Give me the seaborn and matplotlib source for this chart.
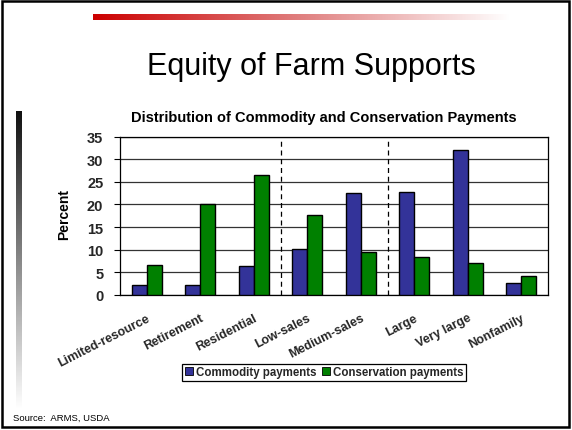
import numpy as np
import pandas as pd
import matplotlib
matplotlib.use("Agg")
import matplotlib.pyplot as plt
from matplotlib.lines import Line2D
from matplotlib.colors import LinearSegmentedColormap
import seaborn as sns

# Farm typology groups and payment shares (percent)
categories = ["Limited-resource", "Retirement", "Residential", "Low-sales",
              "Medium-sales", "Large", "Very large", "Nonfamily"]
commodity = [2.2, 2.2, 6.4, 10.2, 22.5, 22.8, 32.0, 2.6]
conservation = [6.6, 20.0, 26.5, 17.7, 9.6, 8.5, 7.1, 4.3]
series_names = ["Commodity payments", "Conservation payments"]
y_ticks = [0, 5, 10, 15, 20, 25, 30, 35]

df = pd.DataFrame({
    "Group": categories * 2,
    "Series": [series_names[0]] * len(categories) + [series_names[1]] * len(categories),
    "Percent": commodity + conservation,
})

sns.set_theme(style="white")
plt.rcParams["font.family"] = ["Liberation Sans", "DejaVu Sans"]

W, H = 572, 431
fig = plt.figure(figsize=(W / 100, H / 100), dpi=100)
fig.patch.set_facecolor("white")

def fx(px):
    return px / W

def fy(py):
    return 1 - py / H

# Slide decorations: red fading rule at top, grey fading bar at left
red_ax = fig.add_axes([fx(93), fy(21), fx(510) - fx(93), fy(15) - fy(21)])
red_cmap = LinearSegmentedColormap.from_list("red_fade", ["#cc0000", "#e08080", "#ffffff"])
red_ax.imshow(np.linspace(0, 1, 256)[None, :], aspect="auto", cmap=red_cmap)
red_ax.axis("off")

grey_ax = fig.add_axes([fx(16), fy(410), fx(22) - fx(16), fy(112) - fy(410)])
grey_cmap = LinearSegmentedColormap.from_list("grey_fade", ["#111111", "#888888", "#ffffff"])
grey_ax.imshow(np.linspace(0, 1, 256)[:, None], aspect="auto", cmap=grey_cmap)
grey_ax.axis("off")

# Slide frame
fig.add_artist(plt.Rectangle((fx(2), fy(428)), fx(569) - fx(2), fy(2) - fy(428),
                             transform=fig.transFigure, fill=False,
                             edgecolor="black", linewidth=1.8))

fig.text(fx(311), fy(75), "Equity of Farm Supports", ha="center", va="baseline",
         fontsize=22, color="black")
fig.text(fx(323.5), fy(122), "Distribution of Commodity and Conservation Payments",
         ha="center", va="baseline", fontsize=10.5, fontweight="bold", color="black")
fig.text(fx(13), fy(421), "Source:  ARMS, USDA", ha="left", va="baseline",
         fontsize=6.8, color="black")

# Chart
ax = fig.add_axes([fx(120), fy(296), fx(548) - fx(120), fy(137.5) - fy(296)])
palette = {series_names[0]: "#333399", series_names[1]: "#008000"}
sns.barplot(data=df, x="Group", y="Percent", hue="Series", order=categories,
            hue_order=series_names, palette=palette, width=0.56, dodge=True,
            edgecolor="black", linewidth=1.0, saturation=1, legend=False, ax=ax,
            zorder=3)

ax.set_xlim(-0.5, len(categories) - 0.5)
ax.set_ylim(0, 35)
ax.set_yticks(y_ticks)
ax.set_yticklabels([str(v) for v in y_ticks], fontsize=10.5, fontweight="bold")
ax.yaxis.grid(True, color="#333333", linewidth=0.9, zorder=0)
ax.set_axisbelow(True)

ax.set_xticks(range(len(categories)))
ax.set_xticklabels(categories, rotation=27, ha="right", rotation_mode="anchor",
                   fontsize=9, fontweight="bold")
ax.set_xticks(np.arange(-0.5, len(categories), 1), minor=True)
ax.tick_params(axis="x", which="major", length=0, pad=12)
ax.tick_params(axis="x", which="minor", length=4, width=0.8, color="black", direction="out")
ax.tick_params(axis="y", which="major", length=4, width=0.8, color="black",
               direction="out", left=True, pad=8)

for boundary in (2.5, 4.5):
    ax.axvline(boundary, color="black", linestyle=(0, (4, 3)), linewidth=0.9, zorder=2)

for s in ax.spines.values():
    s.set_visible(True)
    s.set_color("black")
    s.set_linewidth(0.9)

ax.set_xlabel("")
ax.set_ylabel("")
fig.text(fx(64), fy(215), "Percent", rotation=90, ha="center", va="center",
         fontsize=10, fontweight="bold", color="black")

handles = [Line2D([0], [0], marker="s", linestyle="", markersize=6,
                  markerfacecolor=palette[n], markeredgecolor="black",
                  markeredgewidth=0.6) for n in series_names]
leg = fig.legend(handles, series_names, loc="center", ncol=2,
                 bbox_to_anchor=(fx(324), fy(373.5)), frameon=True, fancybox=False,
                 edgecolor="black", framealpha=1, handlelength=0.7, handletextpad=0.25,
                 columnspacing=0.5, borderpad=0.2, prop={"weight": "bold", "size": 8.3})
leg.get_frame().set_linewidth(0.9)

fig.savefig("out.png", dpi=100, facecolor="white")
